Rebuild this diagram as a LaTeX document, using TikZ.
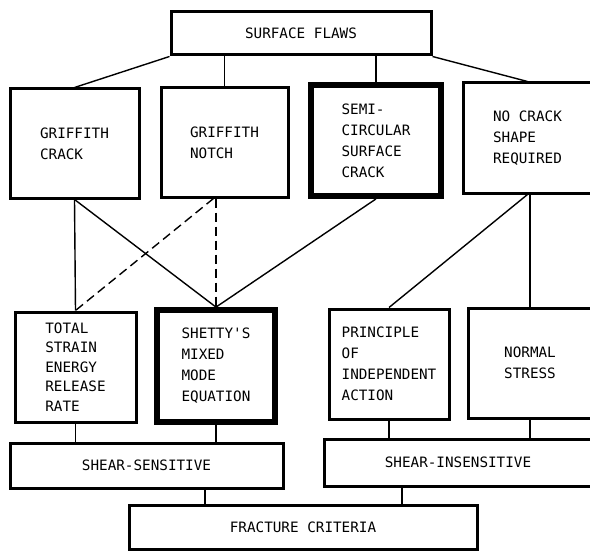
\documentclass[tikz,border=0pt]{standalone}
\usepackage{fontspec}
\setmonofont{DejaVu Sans Mono}

\begin{document}
\begin{tikzpicture}[x=1pt,y=1pt,yscale=-1,
  box/.style={draw, line width=3pt, inner sep=0pt, align=left, font=\ttfamily\fontsize{14.3}{21}\selectfont},
  heavybox/.style={box, line width=5.8pt},
  link/.style={line width=1.4pt},
  broken/.style={link, dash pattern=on 9pt off 5pt}]
\useasboundingbox (0,0) rectangle (590,551);
% top level
\node[box, align=center, minimum width=260, minimum height=43] (flaws) at (301,33.5) {SURFACE FLAWS};
% flaw shapes
\node[box, minimum width=129, minimum height=109] (griffcrack) at (74.5,143.5) {GRIFFITH\\CRACK};
\node[box, minimum width=127, minimum height=109] (griffnotch) at (224.5,142.5) {GRIFFITH\\NOTCH};
\node[heavybox, minimum width=130, minimum height=111] (semicirc) at (376,140.5) {SEMI-\\CIRCULAR\\SURFACE\\CRACK};
\node[box, minimum width=129, minimum height=110] (nocrack) at (527.5,138) {NO CRACK\\SHAPE\\REQUIRED};
% criteria
\node[box, minimum width=121, minimum height=110, font=\ttfamily\fontsize{14.3}{19.5}\selectfont] (strain) at (75.5,367) {TOTAL\\STRAIN\\ENERGY\\RELEASE\\RATE};
\node[heavybox, minimum width=118, minimum height=112] (shetty) at (216,366) {SHETTY'S\\MIXED\\MODE\\EQUATION};
\node[box, minimum width=120, minimum height=110] (indep) at (389,364) {PRINCIPLE\\OF\\INDEPENDENT\\ACTION};
\node[box, minimum width=124, minimum height=110] (normal) at (530,363) {NORMAL\\STRESS};
% groups
\node[box, align=center, minimum width=273, minimum height=45] (sensitive) at (146.5,465.5) {SHEAR-SENSITIVE};
\node[box, align=center, minimum width=268, minimum height=47] (insensitive) at (458,462.5) {SHEAR-INSENSITIVE};
\node[box, align=center, minimum width=348, minimum height=44] (criteria) at (303,527) {FRACTURE CRITERIA};

\draw[link] (flaws.south west) -- (griffcrack.north);
\draw[link] (flaws.south -| griffnotch.north) -- (griffnotch.north);
\draw[link] (flaws.south -| semicirc.north) -- (semicirc.north);
\draw[link] (flaws.south east) -- (nocrack.north);

\draw[link] (griffcrack.south) -- (strain.north);
\draw[link] (griffcrack.south) -- (shetty.north);
\draw[broken] ([xshift=-11pt]griffnotch.south) -- (strain.north);
\draw[broken] (shetty.north |- griffnotch.south) -- (shetty.north);
\draw[link] (semicirc.south) -- (shetty.north);
\draw[link] (nocrack.south) -- (indep.north);
\draw[link] (normal.north |- nocrack.south) -- (normal.north);

\draw[link] (strain.south) -- (strain.south |- sensitive.north);
\draw[link] (shetty.south) -- (shetty.south |- sensitive.north);
\draw[link] (indep.south) -- (indep.south |- insensitive.north);
\draw[link] (normal.south) -- (normal.south |- insensitive.north);

\coordinate (ssjoin) at ([xshift=-98pt]criteria.north);
\coordinate (sijoin) at ([xshift=99pt]criteria.north);
\draw[link] (ssjoin |- sensitive.south) -- (ssjoin);
\draw[link] (sijoin |- insensitive.south) -- (sijoin);
\end{tikzpicture}
\end{document}
